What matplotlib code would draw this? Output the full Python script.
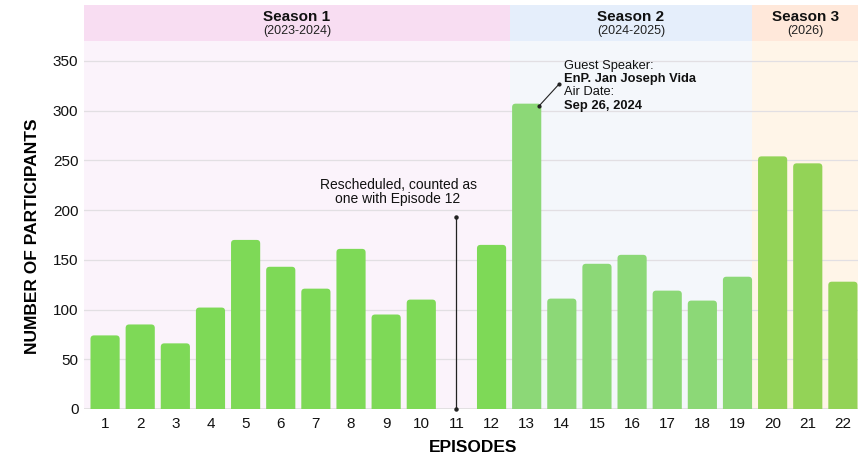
import matplotlib.pyplot as plt
from matplotlib.patches import FancyBboxPatch, Rectangle
import matplotlib.transforms as mtransforms

plt.rcParams['font.family'] = ['Liberation Sans', 'DejaVu Sans']

# data
episodes = list(range(1, 23))
participants = [74, 85, 66, 102, 170, 143, 121, 161, 95, 110, 0, 165,
                307, 111, 146, 155, 119, 109, 133, 254, 247, 128]
season_of_ep = [1] * 12 + [2] * 7 + [3] * 3

season_names = ['Season 1', 'Season 2', 'Season 3']
season_years = ['(2023-2024)', '(2024-2025)', '(2026)']
season_edges = [0.40, 12.52, 19.42, 22.43]

bar_colors = {1: '#7ED957', 2: '#8CD877', 3: '#93D357'}
plot_bg = ['#FBF3FB', '#F4F7FB', '#FFF5E8']
head_bg = ['#F8DDF2', '#E5EEFB', '#FFE8DA']

fig = plt.figure(figsize=(8.66, 4.66), dpi=100)
ax = fig.add_axes([84 / 866, 57 / 466, 774 / 866, 368 / 466])
ax.set_xlim(season_edges[0], season_edges[-1])
ax.set_ylim(0, 370)

trans = mtransforms.blended_transform_factory(ax.transData, ax.transAxes)

# season backgrounds + headers
for i in range(3):
    x0, x1 = season_edges[i], season_edges[i + 1]
    ax.add_patch(Rectangle((x0, 0), x1 - x0, 1, transform=trans,
                           facecolor=plot_bg[i], edgecolor='none', zorder=0))
    ax.add_patch(Rectangle((x0, 1), x1 - x0, 0.098, transform=trans,
                           facecolor=head_bg[i], edgecolor='none',
                           clip_on=False, zorder=0))
    xc = (x0 + x1) / 2
    ax.text(xc, 1.066, season_names[i], transform=trans, ha='center',
            va='center', fontsize=11, fontweight='bold', color='#111111')
    ax.text(xc, 1.027, season_years[i], transform=trans, ha='center',
            va='center', fontsize=9, color='#222222')

# grid
for yv in range(50, 351, 50):
    ax.axhline(yv, color='#E2DFE3', lw=0.9, zorder=1)
ax.axhline(0, color='#DDDDDD', lw=1.2, zorder=1)

# bars with rounded tops
bars = ax.bar(episodes, participants, width=0.83,
              color=[bar_colors[s] for s in season_of_ep], zorder=2)
asp = (370 / 368) / ((season_edges[-1] - season_edges[0]) / 774)
for b in bars:
    if b.get_height() <= 0:
        b.remove()
        continue
    x, w, h = b.get_x(), b.get_width(), b.get_height()
    fb = FancyBboxPatch((x, -10), w, h + 10,
                        boxstyle='round,pad=0,rounding_size=0.1',
                        mutation_aspect=asp, facecolor=b.get_facecolor(),
                        edgecolor='none', zorder=2)
    b.remove()
    ax.add_patch(fb)

# episode 11 annotation
ax.plot([11, 11], [0, 193], color='#222222', lw=0.9, zorder=3, clip_on=False)
ax.plot([11, 11], [0, 193], 'o', color='#222222', ms=2.2, zorder=3, clip_on=False)
ax.text(9.34, 218, 'Rescheduled, counted as\none with Episode 12',
        ha='center', va='center', fontsize=10, linespacing=0.95, color='#111111')

# episode 13 annotation
ax.plot([13.36, 13.93], [305, 327], color='#222222', lw=0.8, zorder=3)
ax.plot([13.36, 13.93], [305, 327], 'o', color='#222222', ms=2, zorder=3)
guest = [('Guest Speaker:', 'normal', 344.6), ('EnP. Jan Joseph Vida', 'bold', 331.7),
         ('Air Date:', 'normal', 318.6), ('Sep 26, 2024', 'bold', 304.8)]
for txt, wt, yv in guest:
    ax.text(14.07, yv, txt, ha='left', va='center', fontsize=9.3,
            fontweight=wt, color='#111111', zorder=4)

# axes
ax.set_xticks(episodes)
ax.set_xticklabels([str(e) for e in episodes])
ax.set_yticks(range(0, 351, 50))
ax.tick_params(axis='both', length=0, labelsize=11, colors='#111111')
ax.tick_params(axis='x', pad=6)
ax.tick_params(axis='y', pad=4)
for sp in ax.spines.values():
    sp.set_visible(False)

fig.text(473 / 866, 1 - 447 / 466, 'EPISODES', ha='center', va='center',
         fontsize=12.5, fontweight='bold')
fig.text(33 / 866, 1 - 236 / 466, 'NUMBER OF PARTICIPANTS', ha='center',
         va='center', rotation=90, fontsize=12.5, fontweight='bold')

fig.savefig('out.png', dpi=100, facecolor='white')
